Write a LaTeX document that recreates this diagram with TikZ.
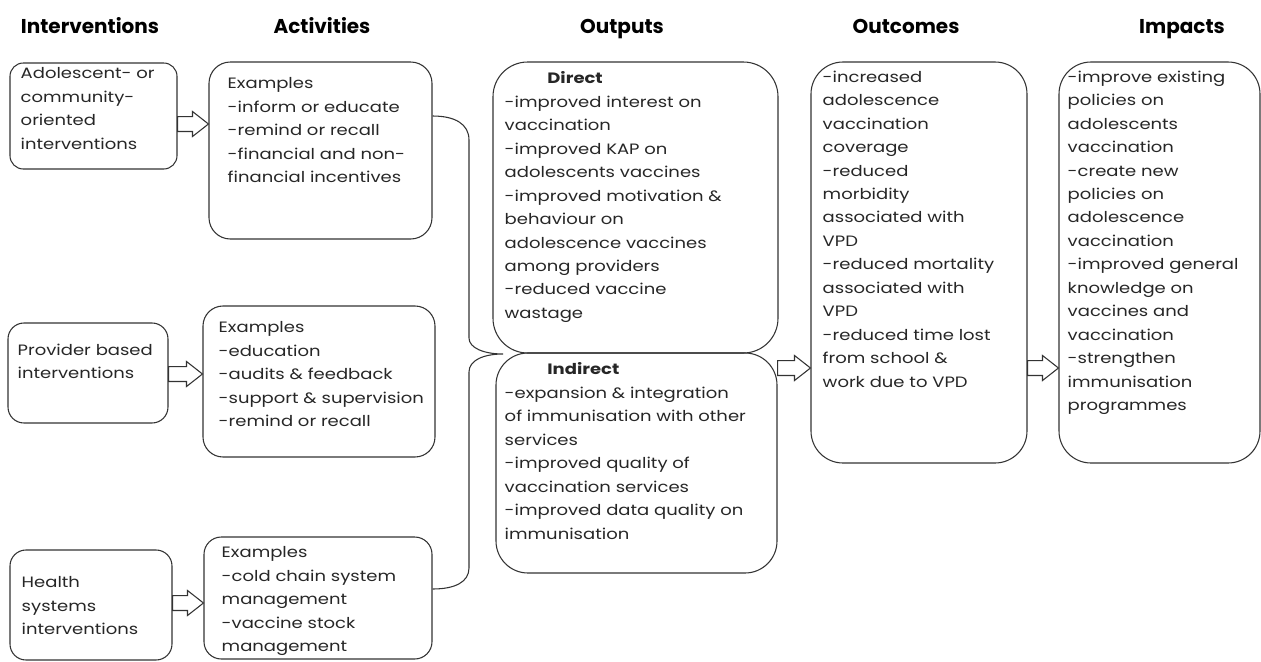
\documentclass[tikz,border=0pt]{standalone}
\usepackage{fontspec}
\setmainfont{Poppins}[FakeStretch=1.2]
\newfontfamily\headfont{Poppins}
\usetikzlibrary{fit}

\tikzset{
  box/.style={draw=black!80, line width=0.8pt, rounded corners=#1, inner sep=0pt},
  box/.default=12pt,
  txt/.style={anchor=north west, align=left, inner sep=0pt, text=black!85,
    font=\fontsize{11.25pt}{17.6pt}\selectfont},
  head/.style={anchor=base, inner sep=0pt, font=\headfont\fontsize{15pt}{18pt}\selectfont\bfseries},
  blockarrow/.style={draw=black!80, line width=0.8pt, fill=white, to path={
    ([yshift=5.6pt]\tikztostart) -- ([xshift=-12pt,yshift=5.6pt]\tikztotarget)
    -- ([xshift=-12pt,yshift=9.4pt]\tikztotarget) -- (\tikztotarget)
    -- ([xshift=-12pt,yshift=-9.4pt]\tikztotarget) -- ([xshift=-12pt,yshift=-5.6pt]\tikztotarget)
    -- ([yshift=-5.6pt]\tikztostart) -- cycle}},
  brace/.style={draw=black!80, line width=0.8pt}
}

\begin{document}
\begin{tikzpicture}[x=0.75pt,y=-0.75pt]
  \useasboundingbox (0,0) rectangle (1261,661);

  \node[head] (hint) at (90,33)   {Interventions};
  \node[head] (hact) at (322,33)  {Activities};
  \node[head] (hout) at (622,33)  {Outputs};
  \node[head] (hres) at (906,33)  {Outcomes};
  \node[head] (himp) at (1182,33) {Impacts};

  \node[box=10pt, fit={(10,63) (177,169)}]   (comm) {};
  \node[box=16pt, fit={(209,62) (432,239)}]  (act1) {};
  \node[box=12pt, fit={(8,323) (168,423)}]   (prov) {};
  \node[box=15pt, fit={(203,306) (435,457)}] (act2) {};
  \node[box=12pt, fit={(10,550) (172,660)}]  (hsys) {};
  \node[box=13pt, fit={(204,537) (432,659)}] (act3) {};
  \node[box=26pt, fit={(493,62) (778,353)}]  (direct) {};
  \node[box=24pt, fit={(496,353) (777,573)}] (indirect) {};
  \node[box=24pt, fit={(811,62) (1027,463)}] (outc) {};
  \node[box=24pt, fit={(1059,62) (1260,463)}] (impc) {};

  \node[txt] (commt) at ([shift={(11,5)}]comm.north west)
    {Adolescent- or\\community-\\oriented\\interventions};
  \node[txt] (act1t) at ([shift={(19,16)}]act1.north west)
    {Examples\\-inform or educate\\-remind or recall\\-financial and non-\\financial incentives};
  \node[txt] (provt) at ([shift={(10,21)}]prov.north west)
    {Provider based\\interventions};
  \node[txt] (act2t) at ([shift={(16,16)}]act2.north west)
    {Examples\\-education\\-audits \& feedback\\-support \& supervision\\-remind or recall};
  \node[txt] (hsyst) at ([shift={(12,27)}]hsys.north west)
    {Health\\systems\\interventions};
  \node[txt] (act3t) at ([shift={(18,10)}]act3.north west)
    {Examples\\-cold chain system\\management\\-vaccine stock\\management};
  \node[txt] (directt) at ([shift={(12,10)}]direct.north west)
    {\hspace*{32pt}\textbf{Direct}\\-improved interest on\\vaccination\\-improved KAP on\\adolescents vaccines\\-improved motivation \&\\behaviour on\\adolescence vaccines\\among providers\\-reduced vaccine\\wastage};
  \node[txt] (indirectt) at ([shift={(9,10)}]indirect.north west)
    {\hspace*{32pt}\textbf{Indirect}\\-expansion \& integration\\of immunisation with other\\services\\-improved quality of\\vaccination services\\-improved data quality on\\immunisation};
  \node[txt] (outct) at ([shift={(12,9)}]outc.north west)
    {-increased\\adolescence\\vaccination\\coverage\\-reduced\\morbidity\\associated with\\VPD\\-reduced mortality\\associated with\\VPD\\-reduced time lost\\from school \&\\work due to VPD};
  \node[txt] (impct) at ([shift={(9,9)}]impc.north west)
    {-improve existing\\policies on\\adolescents\\vaccination\\-create new\\policies on\\adolescence\\vaccination\\-improved general\\knowledge on\\vaccines and\\vaccination\\-strengthen\\immunisation\\programmes};

  \path (comm.east |- 0,124)     edge[blockarrow] (act1.west |- 0,124)
        (prov.east |- 0,374)     edge[blockarrow] (act2.west |- 0,374)
        (hsys.east |- 0,603)     edge[blockarrow] (act3.west |- 0,603)
        (indirect.east |- 0,368) edge[blockarrow] (outc.west |- 0,368)
        (outc.east |- 0,368)     edge[blockarrow] (impc.west |- 0,368);

  \draw[brace] (act1.east |- 0,116) .. controls (455,116) and (469,124) .. (469,140)
    -- (469,338) .. controls (469,348) and (484,354) .. (503,354)
    .. controls (484,354) and (469,360) .. (469,372)
    -- (469,568) .. controls (469,582) and (455,589) .. (act3.east |- 0,589);
\end{tikzpicture}
\end{document}
